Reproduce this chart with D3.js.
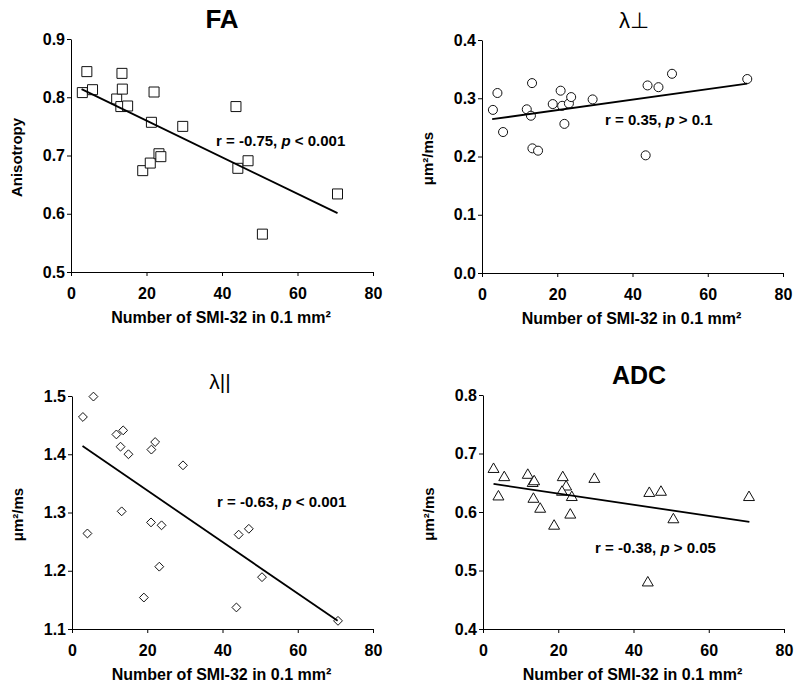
<!DOCTYPE html>
<html>
<head>
<meta charset="utf-8">
<script src="https://cdn.jsdelivr.net/npm/d3@7"></script>
<style>
  body { margin: 0; background: #fff; }
  svg { display: block; font-family: "Liberation Sans", Arial, sans-serif; }
  .tick text { font-size: 16px; font-weight: bold; fill: #000; }
  .tick line, .domain { stroke: #000; stroke-width: 1; }
</style>
</head>
<body>
<div id="chart"></div>
<script>
// x axis ticks, shared by all four panels
var xTicks = [0, 20, 40, 60, 80]

// FA
var faX = [3.0, 4.2, 5.7, 12.1, 13.2, 13.5, 13.6, 15.0, 19.0, 21.0, 21.3, 22.0, 23.3, 23.8, 29.6, 43.7, 44.2, 46.9, 50.7, 70.6]
var faY = [0.808, 0.844, 0.813, 0.797, 0.784, 0.841, 0.814, 0.785, 0.674, 0.687, 0.757, 0.809, 0.703, 0.698, 0.750, 0.784, 0.678, 0.691, 0.565, 0.634]
var faTicks = [0.5, 0.6, 0.7, 0.8, 0.9]
var faFitX = [2.8, 70.6], faFitY = [0.814, 0.601]

// lambda perpendicular
var perpX = [2.9, 4.1, 5.6, 11.9, 13.0, 13.3, 13.4, 14.9, 18.8, 20.9, 21.3, 21.9, 23.1, 23.7, 29.4, 43.5, 44.0, 46.9, 50.5, 70.5]
var perpY = [0.280, 0.309, 0.242, 0.281, 0.270, 0.326, 0.214, 0.210, 0.290, 0.313, 0.287, 0.256, 0.291, 0.302, 0.298, 0.202, 0.322, 0.319, 0.342, 0.333]
var perpTicks = [0.0, 0.1, 0.2, 0.3, 0.4]
var perpFitX = [2.7, 70.5], perpFitY = [0.264, 0.325]

// lambda parallel
var parX = [2.9, 5.7, 4.1, 11.8, 13.6, 12.9, 15.0, 13.2, 19.1, 21.1, 22.1, 21.0, 23.8, 23.2, 29.5, 43.7, 44.3, 47.0, 50.5, 70.7]
var parY = [1.464, 1.499, 1.264, 1.434, 1.441, 1.413, 1.400, 1.302, 1.154, 1.408, 1.421, 1.283, 1.278, 1.207, 1.381, 1.137, 1.262, 1.272, 1.189, 1.114]
var parTicks = [1.1, 1.2, 1.3, 1.4, 1.5]
var parFitX = [2.8, 70.6], parFitY = [1.414, 1.114]

// ADC
var adcX = [2.8, 5.65, 4.1, 11.9, 13.2, 13.6, 13.4, 15.2, 21.2, 22.1, 21.0, 23.6, 23.2, 18.9, 29.6, 44.2, 47.3, 43.8, 50.6, 70.7]
var adcY = [0.673, 0.659, 0.626, 0.663, 0.649, 0.652, 0.622, 0.605, 0.659, 0.643, 0.634, 0.625, 0.595, 0.576, 0.656, 0.632, 0.634, 0.479, 0.587, 0.625]
var adcTicks = [0.4, 0.5, 0.6, 0.7, 0.8]
var adcFitX = [2.8, 70.8], adcFitY = [0.648, 0.583]

var xTitle = 'Number of SMI-32 in 0.1 mm\u00B2'

var panels = [
  {title: 'FA', bold: true, tsize: 26, tx: 222, ty: 28,
   yTitle: 'Anisotropy', xs: faX, ys: faY, ticks: faTicks, fitX: faFitX, fitY: faFitY,
   r: 'r = -0.75, ', p: ' < 0.001', ax: 216, ay: 146,
   left: 71, right: 373, top: 39, bottom: 272, symbol: d3.symbolSquare, size: 100},
  {title: '\u03BB\u22A5', bold: false, tsize: 22, tx: 634, ty: 28,
   yTitle: '\u03BCm\u00B2/ms', xs: perpX, ys: perpY, ticks: perpTicks, fitX: perpFitX, fitY: perpFitY,
   r: 'r = 0.35, ', p: ' > 0.1', ax: 605, ay: 125,
   left: 482, right: 783, top: 40, bottom: 273, symbol: d3.symbolCircle, size: 64},
  {title: '\u03BB||', bold: false, tsize: 21, tx: 220, ty: 389,
   yTitle: '\u03BCm\u00B2/ms', xs: parX, ys: parY, ticks: parTicks, fitX: parFitX, fitY: parFitY,
   r: 'r = -0.63, ', p: ' < 0.001', ax: 217, ay: 507,
   left: 72, right: 373, top: 396, bottom: 629, symbol: d3.symbolDiamond2, size: 50},
  {title: 'ADC', bold: true, tsize: 25, tx: 639, ty: 384,
   yTitle: '\u03BCm\u00B2/ms', xs: adcX, ys: adcY, ticks: adcTicks, fitX: adcFitX, fitY: adcFitY,
   r: 'r = -0.38, ', p: ' > 0.05', ax: 595, ay: 553,
   left: 483, right: 784, top: 395, bottom: 629, symbol: d3.symbolTriangle, size: 52}
]

var svg = d3.select('#chart').append('svg')
  .attr('width', 800).attr('height', 686)

panels.forEach(function(pn){
  var x = d3.scaleLinear().domain([0, 80]).range([pn.left, pn.right])
  var y = d3.scaleLinear().domain([pn.ticks[0], pn.ticks[pn.ticks.length-1]]).range([pn.bottom, pn.top])
  var g = svg.append('g')

  g.append('g')
  .attr('transform', 'translate(0,' + pn.bottom + ')')
  .call(d3.axisBottom(x).tickValues(xTicks).tickSize(4).tickSizeOuter(0).tickPadding(12))

  g.append('g')
  .attr('transform', 'translate(' + pn.left + ',0)')
  .call(d3.axisLeft(y).tickValues(pn.ticks).tickFormat(d3.format('.1f')).tickSize(4).tickSizeOuter(0).tickPadding(2))

  // points
  var sym = d3.symbol().type(pn.symbol).size(pn.size)
  g.append('g').selectAll('path')
  .data(pn.xs.map(function(v, i){ return [v, pn.ys[i]] }))
  .join('path')
  .attr('d', sym)
  .attr('transform', function(d){ return 'translate(' + x(d[0]) + ',' + y(d[1]) + ')' })
  .attr('fill', '#fff')
  .attr('stroke', '#111')
  .attr('stroke-width', 1)

  // trend line
  g.append('path')
  .datum(pn.fitX.map(function(v, i){ return [v, pn.fitY[i]] }))
  .attr('d', d3.line().x(function(d){ return x(d[0]) }).y(function(d){ return y(d[1]) }))
  .attr('fill', 'none')
  .attr('stroke', '#000')
  .attr('stroke-width', 1.8)

  // titles
  g.append('text')
  .attr('x', pn.tx).attr('y', pn.ty)
  .attr('text-anchor', 'middle')
  .style('font-size', pn.tsize + 'px')
  .style('font-weight', pn.bold ? 'bold' : 'normal')
  .text(pn.title)

  g.append('text')
  .attr('x', (pn.left + pn.right) / 2 - 1).attr('y', pn.bottom + 51)
  .attr('text-anchor', 'middle')
  .style('font-size', '16px').style('font-weight', 'bold')
  .text(xTitle)

  g.append('text')
  .attr('transform', 'translate(' + (pn.left - 49) + ',' + ((pn.top + pn.bottom) / 2 + 2) + ') rotate(-90)')
  .attr('text-anchor', 'middle')
  .style('font-size', '15px').style('font-weight', 'bold')
  .text(pn.yTitle)

  var ann = g.append('text')
  .attr('x', pn.ax).attr('y', pn.ay)
  .style('font-size', '15px').style('font-weight', 'bold')
  ann.append('tspan').text(pn.r)
  ann.append('tspan').style('font-style', 'italic').text('p')
  ann.append('tspan').text(pn.p)
})
</script>
</body>
</html>
